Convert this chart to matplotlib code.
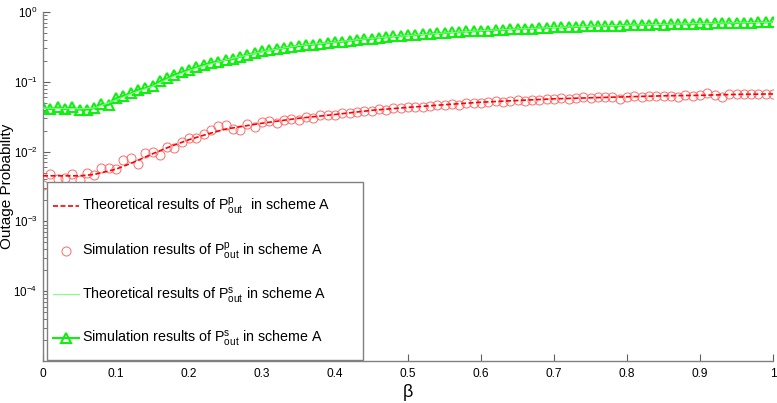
import matplotlib
matplotlib.use("Agg")
import matplotlib.pyplot as plt
from matplotlib.ticker import LogLocator, FixedLocator
from matplotlib.patches import Rectangle

plt.rcParams['font.family'] = ['Liberation Sans', 'DejaVu Sans']
plt.rcParams['mathtext.fontset'] = 'custom'
plt.rcParams['mathtext.rm'] = 'Liberation Sans'
plt.rcParams['mathtext.it'] = 'Liberation Sans:italic'
plt.rcParams['mathtext.default'] = 'regular'
plt.rcParams['axes.unicode_minus'] = False

# ---------------- data ----------------
beta_theory = [0.00, 0.05, 0.07, 0.10, 0.125, 0.15, 0.175, 0.20, 0.225, 0.25,
               0.30, 0.35, 0.40, 0.45, 0.50, 0.55, 0.60, 0.65, 0.70, 0.75,
               0.80, 0.85, 0.90, 0.95, 1.00]
theory_p = [0.0045, 0.0045, 0.0047, 0.0056, 0.0071, 0.0093, 0.0119, 0.0148, 0.0178, 0.0210,
            0.0255, 0.0300, 0.0340, 0.0390, 0.0430, 0.0470, 0.0510, 0.0540, 0.0570, 0.0590,
            0.0610, 0.0630, 0.0640, 0.0660, 0.0670]
theory_s = [0.042, 0.041, 0.042, 0.055, 0.070, 0.086, 0.115, 0.145, 0.175, 0.205,
            0.270, 0.330, 0.370, 0.420, 0.460, 0.500, 0.540, 0.570, 0.600, 0.625,
            0.645, 0.665, 0.685, 0.700, 0.715]

beta_sim = [i / 100 for i in range(101)]
sim_p = [0.0033, 0.0047, 0.0041, 0.0042, 0.0047, 0.0039, 0.0049, 0.0046, 0.0058, 0.0058,
         0.0056, 0.0076, 0.0080, 0.0066, 0.0097, 0.0100, 0.0089, 0.0118, 0.0114, 0.0136,
         0.0158, 0.0158, 0.0179, 0.0204, 0.0235, 0.0241, 0.0212, 0.0204, 0.0250, 0.0228,
         0.0262, 0.0270, 0.0258, 0.0285, 0.0296, 0.0288, 0.0312, 0.0305, 0.0330, 0.0338,
         0.0334, 0.0356, 0.0352, 0.0372, 0.0384, 0.0380, 0.0405, 0.0398, 0.0420, 0.0416,
         0.0435, 0.0441, 0.0430, 0.0452, 0.0460, 0.0458, 0.0478, 0.0470, 0.0492, 0.0500,
         0.0495, 0.0512, 0.0530, 0.0508, 0.0535, 0.0545, 0.0532, 0.0556, 0.0550, 0.0568,
         0.0565, 0.0585, 0.0560, 0.0590, 0.0600, 0.0586, 0.0605, 0.0600, 0.0612, 0.0566,
         0.0605, 0.0620, 0.0610, 0.0628, 0.0618, 0.0632, 0.0625, 0.0615, 0.0640, 0.0630,
         0.0645, 0.0680, 0.0650, 0.0612, 0.0660, 0.0670, 0.0662, 0.0672, 0.0668, 0.0675,
         0.0670]
sim_s = [0.043, 0.0407, 0.043, 0.0407, 0.043, 0.040, 0.040, 0.0417, 0.048, 0.0465,
         0.058, 0.063, 0.068, 0.077, 0.081, 0.088, 0.101, 0.112, 0.126, 0.137,
         0.148, 0.161, 0.174, 0.186, 0.194, 0.205, 0.212, 0.228, 0.245, 0.255,
         0.272, 0.282, 0.295, 0.303, 0.318, 0.325, 0.336, 0.342, 0.352, 0.358,
         0.370, 0.376, 0.390, 0.395, 0.410, 0.415, 0.428, 0.432, 0.446, 0.450,
         0.462, 0.465, 0.478, 0.482, 0.495, 0.498, 0.510, 0.512, 0.526, 0.528,
         0.540, 0.542, 0.552, 0.555, 0.566, 0.568, 0.580, 0.580, 0.592, 0.592,
         0.602, 0.600, 0.612, 0.610, 0.622, 0.620, 0.632, 0.630, 0.640, 0.638,
         0.648, 0.646, 0.656, 0.654, 0.664, 0.662, 0.672, 0.670, 0.680, 0.676,
         0.688, 0.684, 0.694, 0.690, 0.700, 0.696, 0.706, 0.702, 0.712, 0.708,
         0.718]

xticks = [0, 0.1, 0.2, 0.3, 0.4, 0.5, 0.6, 0.7, 0.8, 0.9, 1]
xticklabels = ['0', '0.1', '0.2', '0.3', '0.4', '0.5', '0.6', '0.7', '0.8', '0.9', '1']
yticks = [1e-4, 1e-3, 1e-2, 1e-1, 1]
yticklabels = [r'$10^{-4}$', r'$10^{-3}$', r'$10^{-2}$', r'$10^{-1}$', r'$10^{0}$']

labels = [r'Theoretical results of $P^{p}_{out}$  in scheme A',
          r'Simulation results of $P^{p}_{out}$ in scheme A',
          r'Theoretical results of $P^{s}_{out}$ in scheme A',
          r'Simulation results of $P^{s}_{out}$ in scheme A']

# ---------------- figure ----------------
W, H = 777, 403
fig = plt.figure(figsize=(7.77, 4.03), dpi=100)
ax = fig.add_axes([43 / W, 1 - 361 / H, 730 / W, 349 / H])

red_line, = ax.plot(beta_theory, theory_p, color='#ff0000', lw=1.2,
                    linestyle=(0, (3, 1.5)), zorder=3)
red_pts, = ax.plot(beta_sim, sim_p, linestyle='none', marker='o', ms=6.5,
                   mfc='none', mec='#ff6a6a', mew=0.7, zorder=2)
green_line, = ax.plot(beta_theory, theory_s, color='#80ff80', lw=0.8, zorder=3)
green_pts, = ax.plot(beta_sim, sim_s, color='#11ee11', lw=1.5, marker='^', ms=7,
                     mfc='none', mec='#11ee11', mew=1.5, zorder=2)

ax.set_yscale('log')
ax.set_xlim(0, 1)
ax.set_ylim(1e-5, 1)
ax.set_xticks(xticks)
ax.set_xticklabels(xticklabels)
ax.yaxis.set_major_locator(FixedLocator(yticks))
ax.set_yticklabels(yticklabels)
ax.yaxis.set_minor_locator(LogLocator(base=10, subs=range(2, 10), numticks=20))

for s in ['top', 'right']:
    ax.spines[s].set_visible(False)
for s in ['left', 'bottom']:
    ax.spines[s].set_color('#808080')
    ax.spines[s].set_linewidth(1.0)

ax.tick_params(which='both', direction='in', colors='#606060', labelcolor='black')
ax.tick_params(axis='x', labelsize=8.6, pad=5)
ax.tick_params(axis='y', labelsize=8.4, pad=4)
ax.tick_params(which='major', length=5, width=0.8)
ax.tick_params(which='minor', length=3, width=0.6)

ax.set_ylabel('Outage Probability', fontsize=11.0)
ax.yaxis.set_label_coords(-28.5 / 730, 0.5)
ax.set_xlabel('β', fontsize=13, labelpad=3)

# legend frame drawn as a rectangle in figure pixels
frame = Rectangle((47 / W, 1 - 360 / H), 316 / W, 178 / H, transform=fig.transFigure,
                  facecolor='white', edgecolor='#808080', lw=1.0, zorder=4)
fig.add_artist(frame)

leg = fig.legend([red_line, red_pts, green_line, green_pts], labels,
                 loc='upper left', bbox_to_anchor=(53 / W, 1 - 196 / H),
                 fontsize=10.3, frameon=False, borderpad=0.0,
                 labelspacing=1.65, handlelength=1.85, handletextpad=0.15,
                 borderaxespad=0.0)
leg.set_zorder(5)

fig.savefig('out.png', dpi=100)
